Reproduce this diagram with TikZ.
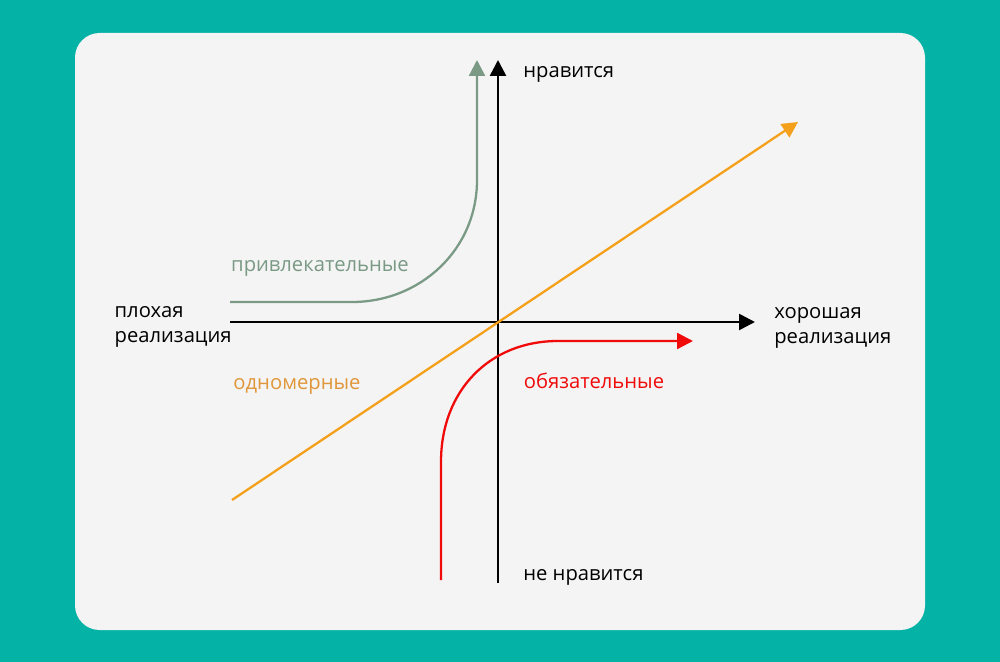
\documentclass[tikz,border=0pt]{standalone}
\usepackage{fontspec}
\setmainfont{Open Sans}
\usepackage{xcolor}
\usetikzlibrary{arrows.meta}
\definecolor{bgteal}{HTML}{05B2A6}
\definecolor{panel}{HTML}{F4F4F4}
\definecolor{attractive}{HTML}{7A9A85}
\definecolor{onedim}{HTML}{F5A01A}
\definecolor{onedimtext}{HTML}{E0963A}
\definecolor{mustbe}{HTML}{F00A0A}
\tikzset{
  axis/.style={line width=1.4pt, -{Triangle[length=9pt,width=9pt]}},
  curve/.style={line width=1.3pt, -{Triangle[length=9pt,width=9pt]}},
  lbl/.style={font=\fontsize{11.5}{14}\selectfont, inner sep=0pt}
}
\begin{document}
\begin{tikzpicture}[x=0.02cm,y=-0.02cm]
        % background and panel
        \fill[bgteal] (0,0) rectangle (1000,662);
        \useasboundingbox (0,0) rectangle (1000,662);
        \fill[panel, rounded corners=14pt] (75,33) rectangle (925,630);

        % axes
        \coordinate (xl) at (230,322);
        \coordinate (xr) at (755,322);
        \coordinate (yb) at (498,583);
        \coordinate (yt) at (498,60);
        \draw[axis] (xl) -- (xr);
        \draw[axis] (yb) -- (yt);

        % axis labels
        \node[lbl, anchor=west] (like) at (523,74) {нравится};
        \node[lbl, anchor=west] (dislike) at (523,577) {не нравится};
        \node[lbl, anchor=east, align=left] (bad) at (232,327) {плохая\\реализация};
        \node[lbl, anchor=west, align=left] (good) at (774,328) {хорошая\\реализация};

        % attractive
        \coordinate (a1) at (230,302);
        \coordinate (a2) at (352,302);
        \coordinate (a3) at (477,180);
        \coordinate (a4) at (477,60);
        \draw[curve, attractive] (a1) -- (a2) .. controls (420,302) and (477,250) .. (a3) -- (a4);
        \node[lbl, attractive] (attr) at (320,268) {привлекательные};

        % one-dimensional
        \coordinate (o1) at (232,500);
        \coordinate (o2) at (798,122);
        \draw[curve, onedim] (o1) -- (o2);
        \node[lbl, onedimtext] (onedimlbl) at (297,386) {одномерные};

        % must-be
        \coordinate (m1) at (441,580);
        \coordinate (m2) at (441,462);
        \coordinate (m3) at (558,341);
        \coordinate (m4) at (693,341);
        \draw[curve, mustbe] (m1) -- (m2) .. controls (441,390) and (490,341) .. (m3) -- (m4);
        \node[lbl, mustbe] (must) at (594,381) {обязательные};
\end{tikzpicture}
\end{document}
